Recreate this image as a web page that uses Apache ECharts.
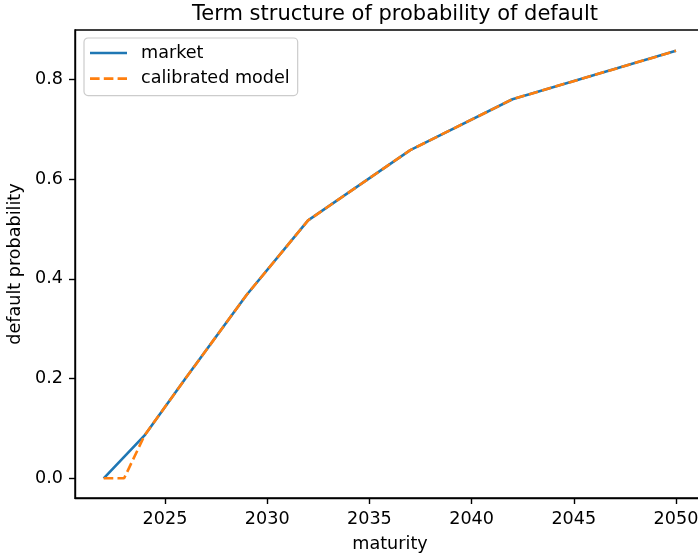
<!DOCTYPE html>
<html>
<head>
<meta charset="utf-8">
<script src="https://cdn.jsdelivr.net/npm/echarts@6/dist/echarts.min.js"></script>
<style>
  html, body { margin: 0; padding: 0; background: #fff; }
  #chart { width: 698px; height: 557px; }
</style>
</head>
<body>
<div id="chart"></div>
<script>
// Term structure of default probability: market quotes vs calibrated model
const marketYears = [2022, 2024, 2026, 2029, 2032, 2037, 2042, 2050];
const marketPD    = [0.0, 0.086, 0.2, 0.368, 0.517, 0.658, 0.760, 0.857];
const modelYears  = [2022, 2023, 2024, 2026, 2029, 2032, 2037, 2042, 2050];
const modelPD     = [0.0, 0.0, 0.086, 0.2, 0.368, 0.517, 0.658, 0.760, 0.857];
const xTicks = [2025, 2030, 2035, 2040, 2045, 2050];
const yTicks = [0.0, 0.2, 0.4, 0.6, 0.8];

const FONT = 'DejaVu Sans';
const FS = 17.6;
const BLUE = '#1f77b4';
const ORANGE = '#ff7f0e';

// legend glyphs: a solid stroke and a dashed stroke
const SOLID_ICON = 'path://M0,0H37V2.6H0Z';
const DASH_ICON = 'path://M0,0H9.6V2.6H0Z M13.8,0H23.4V2.6H13.8Z M27.6,0H37V2.6H27.6Z';

const zip = (xs, ys) => xs.map((x, i) => [x, ys[i]]);

const chart = echarts.init(document.getElementById('chart'), null, { renderer: 'canvas' });
chart.setOption({
  backgroundColor: '#ffffff',
  animation: false,
  textStyle: { fontFamily: FONT },
  title: {
    text: 'Term structure of probability of default',
    left: 390, top: -1, textAlign: 'center',
    textStyle: { fontFamily: FONT, fontSize: 21, fontWeight: 'normal', color: '#000' }
  },
  legend: {
    orient: 'vertical',
    left: 84, top: 38,
    padding: [5, 8, 7, 6],
    itemWidth: 37, itemHeight: 2.6, itemGap: 5.6,
    backgroundColor: 'rgba(255,255,255,0.8)',
    borderColor: '#cccccc', borderWidth: 1.2, borderRadius: 4,
    textStyle: { fontFamily: FONT, fontSize: FS, color: '#000', lineHeight: 20, padding: [0, 0, 0, 9] },
    data: [
      { name: 'market', icon: SOLID_ICON, itemStyle: { color: BLUE } },
      { name: 'calibrated model', icon: DASH_ICON, itemStyle: { color: ORANGE } }
    ]
  },
  grid: {
    left: 75, top: 30, width: 630, height: 468,
    outerBoundsMode: 'none',
    show: true, borderColor: '#000', borderWidth: 1.4, containLabel: false
  },
  xAxis: {
    type: 'value',
    min: 2020.597, max: 2051.42,
    name: 'maturity', nameLocation: 'middle', nameGap: 37,
    nameTextStyle: { fontFamily: FONT, fontSize: FS, color: '#000' },
    axisLine: { show: true, onZero: false, lineStyle: { color: '#000', width: 1.4 } },
    axisTick: { show: true, length: 6, customValues: xTicks, lineStyle: { color: '#000', width: 1.4 } },
    axisLabel: {
      customValues: xTicks, margin: 12, color: '#000', fontFamily: FONT, fontSize: FS,
      formatter: v => String(v)
    },
    splitLine: { show: false }
  },
  yAxis: {
    type: 'value',
    min: -0.0395, max: 0.8988,
    name: 'default probability', nameLocation: 'middle', nameGap: 44,
    nameTextStyle: { fontFamily: FONT, fontSize: FS, color: '#000' },
    axisLine: { show: true, onZero: false, lineStyle: { color: '#000', width: 1.4 } },
    axisTick: { show: true, length: 6, customValues: yTicks, lineStyle: { color: '#000', width: 1.4 } },
    axisLabel: {
      customValues: yTicks, margin: 12, color: '#000', fontFamily: FONT, fontSize: FS,
      formatter: v => v.toFixed(1)
    },
    splitLine: { show: false }
  },
  series: [
    {
      name: 'market', type: 'line', data: zip(marketYears, marketPD),
      symbol: 'none', color: BLUE,
      lineStyle: { color: BLUE, width: 2.6 }
    },
    {
      name: 'calibrated model', type: 'line', data: zip(modelYears, modelPD),
      symbol: 'none', color: ORANGE,
      lineStyle: { color: ORANGE, width: 2.6, type: [9.6, 4.2] }
    }
  ]
});
</script>
</body>
</html>
